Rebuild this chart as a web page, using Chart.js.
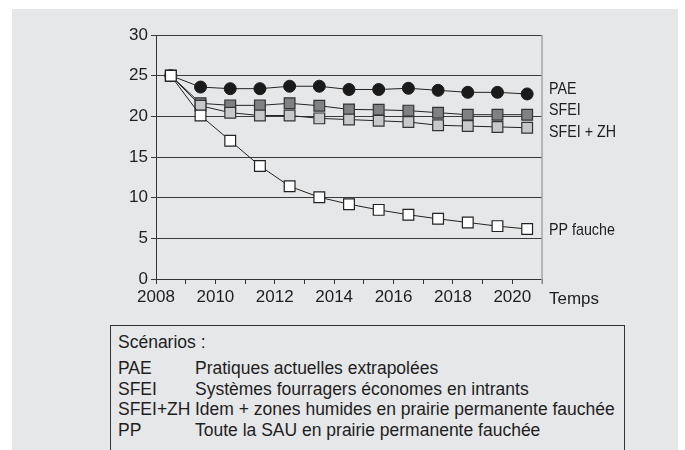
<!DOCTYPE html>
<html>
<head>
<meta charset="utf-8">
<script src="https://cdn.jsdelivr.net/npm/chart.js@4.4.0/dist/chart.umd.min.js"></script>
<style>
    html, body { margin: 0; padding: 0; background: #fff; }
    body { width: 685px; height: 450px; overflow: hidden; position: relative;
           font-family: "Liberation Sans", Arial, sans-serif; color: #1e1e1e; }
    #panel { position: absolute; left: 12px; top: 9px; width: 666px; height: 441px; background: #e6e7e9; }
    #chartWrap { position: absolute; left: 0; top: 0; width: 685px; height: 320px; }
    #box { position: absolute; left: 110px; top: 325px; width: 515px; height: 150px;
           border: 1.5px solid #333; box-sizing: border-box; font-size: 17.5px; line-height: 20.5px;
           padding: 6px 0 0 7px; }
    #box .title { margin-bottom: 5.5px; }
    #box .row { white-space: nowrap; }
    #box .code { display: inline-block; width: 77px; }
</style>
</head>
<body>
<div id="panel"></div>
<div id="chartWrap"><canvas id="chart" width="685" height="320"></canvas></div>
<div id="box">
    <div class="title">Scénarios :</div>
    <div class="row"><span class="code">PAE</span>Pratiques actuelles extrapolées</div>
    <div class="row"><span class="code">SFEI</span>Systèmes fourragers économes en intrants</div>
    <div class="row"><span class="code">SFEI+ZH</span>Idem + zones humides en prairie permanente fauchée</div>
    <div class="row"><span class="code">PP</span>Toute la SAU en prairie permanente fauchée</div>
</div>
<script>
// data
const years = [2008.5, 2009.5, 2010.5, 2011.5, 2012.5, 2013.5, 2014.5, 2015.5, 2016.5, 2017.5, 2018.5, 2019.5, 2020.5];
const pae = [25, 23.6, 23.4, 23.4, 23.7, 23.7, 23.3, 23.3, 23.45, 23.2, 22.95, 22.95, 22.75];
const sfei = [25, 21.6, 21.35, 21.35, 21.6, 21.3, 20.85, 20.8, 20.7, 20.45, 20.2, 20.2, 20.2];
const sfeiZh = [25, 21.3, 20.45, 20.1, 20.1, 19.75, 19.6, 19.45, 19.3, 18.9, 18.8, 18.7, 18.6];
const ppFauche = [25, 20.1, 17.0, 13.9, 11.4, 10.05, 9.2, 8.5, 7.9, 7.4, 6.95, 6.5, 6.15];
const seriesLabels = ['PP fauche', 'SFEI + ZH', 'SFEI', 'PAE'];
const xMin = 2008, xMax = 2021;
const yMin = 0, yMax = 30, yStep = 5;

const FONT = '"Liberation Sans", Arial, sans-serif';
const INK = '#1e1e1e';

function toPoints(values) {
    return values.map((v, i) => ({ x: years[i], y: v }));
}

// right border, series names and "Temps"
const extras = {
    id: 'extras',
    afterDraw(chart) {
        const ctx = chart.ctx;
        const area = chart.chartArea;
        const y = chart.scales.y;
        ctx.save();
        ctx.strokeStyle = '#a3a4a6';
        ctx.lineWidth = 1.5;
        ctx.beginPath();
        ctx.moveTo(area.right, area.top);
        ctx.lineTo(area.right, area.bottom + 5);
        ctx.stroke();

        // label anchors (value units) for names on the right
        const anchors = [6.0, 18.0, 20.7, 23.3];
        ctx.fillStyle = INK;
        ctx.font = '17px ' + FONT;
        ctx.textBaseline = 'middle';
        seriesLabels.forEach((name, i) => {
            ctx.save();
            ctx.translate(area.right + 7, y.getPixelForValue(anchors[i]));
            ctx.scale(0.84, 1);
            ctx.fillText(name, 0, 0);
            ctx.restore();
        });
        ctx.textBaseline = 'alphabetic';
        ctx.fillText('Temps', area.right + 7, area.bottom + 25);
        ctx.restore();
    }
};

new Chart(document.getElementById('chart'), {
    type: 'line',
    data: {
        datasets: [
            { label: 'PP fauche', data: toPoints(ppFauche), borderColor: '#222', borderWidth: 1,
              pointStyle: 'rect', pointRadius: 7.6, pointBackgroundColor: '#ffffff', pointBorderColor: '#222', pointBorderWidth: 1.2 },
            { label: 'SFEI + ZH', data: toPoints(sfeiZh), borderColor: '#222', borderWidth: 1,
              pointStyle: 'rect', pointRadius: 7.6, pointBackgroundColor: '#c7c8ca', pointBorderColor: '#333', pointBorderWidth: 1.2 },
            { label: 'SFEI', data: toPoints(sfei), borderColor: '#222', borderWidth: 1,
              pointStyle: 'rect', pointRadius: 7.6, pointBackgroundColor: '#808183', pointBorderColor: '#333', pointBorderWidth: 1.2 },
            { label: 'PAE', data: toPoints(pae), borderColor: '#222', borderWidth: 1,
              pointStyle: 'circle', pointRadius: 6, pointBackgroundColor: '#1a1a1a', pointBorderColor: '#1a1a1a', pointBorderWidth: 1 }
        ]
    },
    options: {
        responsive: false,
        animation: false,
        devicePixelRatio: 1,
        layout: { padding: { left: 0, right: 143, top: 35, bottom: 0 } },
        plugins: { legend: { display: false }, tooltip: { enabled: false } },
        scales: {
            x: {
                type: 'linear', min: xMin, max: xMax,
                afterFit: s => { s.height = 41; },
                grid: { drawOnChartArea: false, tickLength: 5, color: '#333', lineWidth: 1 },
                border: { color: '#333', width: 1 },
                ticks: {
                    stepSize: 1, autoSkip: false, maxRotation: 0, padding: 3,
                    color: INK, font: { family: FONT, size: 17 },
                    callback: v => (v % 2 === 0 ? String(v) : '')
                }
            },
            y: {
                min: yMin, max: yMax,
                afterFit: s => { s.width = 156; },
                grid: { color: '#3a3a3a', lineWidth: 1, tickLength: 5 },
                border: { color: '#333', width: 1 },
                ticks: { stepSize: yStep, padding: 3, color: INK, font: { family: FONT, size: 17 } }
            }
        }
    },
    plugins: [extras]
});
</script>
</body>
</html>
